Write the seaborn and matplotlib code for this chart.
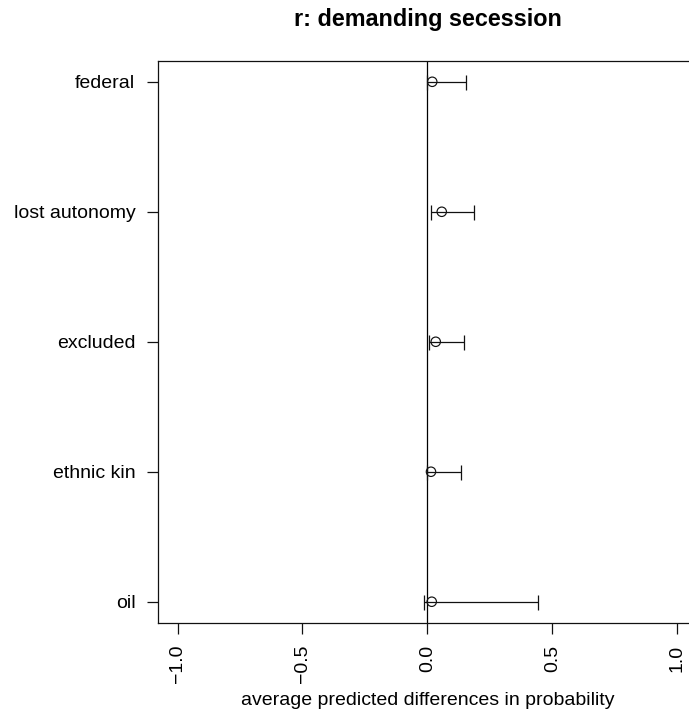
import matplotlib
matplotlib.use("Agg")
import matplotlib.pyplot as plt
import seaborn as sns
import pandas as pd

# Average predicted differences in probability with interval bounds
variables = ["federal", "lost autonomy", "excluded", "ethnic kin", "oil"]
estimate = [0.019, 0.057, 0.033, 0.014, 0.017]
lower = [0.0, 0.014, 0.007, -0.003, -0.014]
upper = [0.154, 0.185, 0.146, 0.133, 0.442]
xticks = [-1.0, -0.5, 0.0, 0.5, 1.0]
xtick_labels = ["\u22121.0", "\u22120.5", "0.0", "0.5", "1.0"]

sns.set_theme(style="white")
plt.rcParams["font.family"] = ["Liberation Sans", "DejaVu Sans"]

df = pd.DataFrame({
    "variable": variables,
    "estimate": estimate,
    "lower": lower,
    "upper": upper,
})
# top-to-bottom order: first variable at the top
df["pos"] = list(range(len(variables), 0, -1))

fig = plt.figure(figsize=(6.89, 7.10), dpi=100)
# the plotting box runs past the right edge of the figure
ax = fig.add_axes([0.2286, 0.1232, 0.7837, 0.7909])

# zero reference line
ax.axvline(0, color="black", lw=0.9, zorder=1)

# interval whiskers with end caps
ax.errorbar(
    x=df["estimate"], y=df["pos"],
    xerr=[df["estimate"] - df["lower"], df["upper"] - df["estimate"]],
    fmt="none", ecolor="#111111", elinewidth=0.9, capsize=5.4, capthick=0.9,
    zorder=2,
)

# point estimates as open circles
sns.scatterplot(
    data=df, x="estimate", y="pos", ax=ax, marker="o", s=46,
    facecolors="none", edgecolor="#111111", linewidth=0.85, zorder=3,
    legend=False,
)

ax.set_xlim(-1.08, 1.08)
ax.set_ylim(0.84, len(variables) + 0.16)
ax.set_xticks(xticks)
ax.set_xticklabels(xtick_labels, rotation=90, va="top", ha="center")
ax.set_yticks(df["pos"])
ax.set_yticklabels(df["variable"])

for side in ["left", "top", "bottom"]:
    ax.spines[side].set_color("#111111")
    ax.spines[side].set_linewidth(0.9)
ax.spines["right"].set_visible(False)

ax.tick_params(axis="both", which="major", direction="out", length=8,
               width=0.9, color="#111111", labelsize=14, labelcolor="black",
               pad=8, bottom=True, left=True, top=False, right=False)

ax.set_xlabel("average predicted differences in probability", fontsize=14,
              color="black", labelpad=6)
ax.set_ylabel("")
ax.set_title("r: demanding secession", fontsize=16.8, fontweight="bold",
             color="black", pad=25)

fig.savefig("out.png", dpi=100)
